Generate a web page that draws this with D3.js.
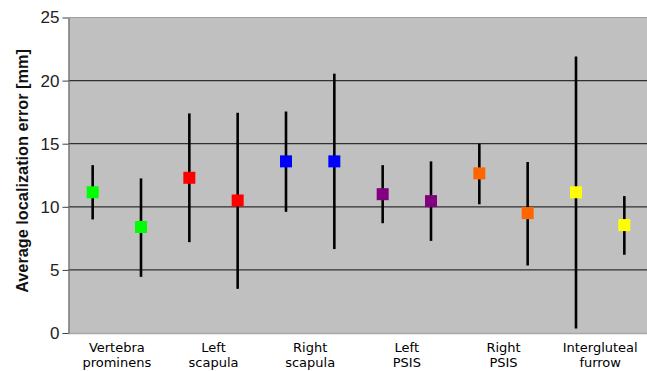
<!DOCTYPE html>
<html>
<head>
<meta charset="utf-8">
<script src="https://cdn.jsdelivr.net/npm/d3@7"></script>
<style>
  body { margin: 0; background: #fff; }
  svg { display: block; }
</style>
</head>
<body>
<svg id="chart" width="647" height="371"></svg>
<script>
// categories and the two measurements per landmark
const categories = [["Vertebra", "prominens"], ["Left", "scapula"], ["Right", "scapula"],
                    ["Left", "PSIS"], ["Right", "PSIS"], ["Intergluteal", "furrow"]];
const colors = ["#00ff00", "#ff0000", "#0000ff", "#800080", "#ff6600", "#ffff00"];
const meanA = [11.15, 12.3, 13.6, 11.0, 12.65, 11.15];
const lowA  = [9.0, 7.2, 9.6, 8.7, 10.2, 0.35];
const highA = [13.3, 17.4, 17.55, 13.3, 15.0, 21.9];
const meanB = [8.4, 10.5, 13.6, 10.45, 9.5, 8.55];
const lowB  = [4.45, 3.5, 6.65, 7.3, 5.35, 6.2];
const highB = [12.25, 17.45, 20.55, 13.6, 13.55, 10.85];
const yTicks = [0, 5, 10, 15, 20, 25];

const svg = d3.select("#chart");
const margin = { left: 68.5, top: 17.5, right: 648.5, bottom: 333 };
const arial = "'Liberation Sans', Arial, sans-serif";

const x = d3.scaleBand().domain(d3.range(categories.length)).range([margin.left, margin.right]);
const y = d3.scaleLinear().domain([0, 25]).range([margin.bottom, margin.top]);

// plot background
svg.append("rect")
    .attr("x", margin.left).attr("y", margin.top)
    .attr("width", margin.right - margin.left).attr("height", margin.bottom - margin.top)
    .attr("fill", "#c0c0c0");

// grid lines
svg.selectAll("line.grid")
    .data(yTicks.filter(d => d > 0 && d < 25))
    .enter().append("line")
    .attr("x1", margin.left).attr("x2", margin.right)
    .attr("y1", d => y(d)).attr("y2", d => y(d))
    .attr("stroke", "#303030").attr("stroke-width", 1.2);

// borders
svg.append("line").attr("x1", margin.left).attr("x2", margin.right)
    .attr("y1", margin.top).attr("y2", margin.top).attr("stroke", "#a0a0a0").attr("stroke-width", 1);
svg.append("line").attr("x1", margin.left).attr("x2", margin.right)
    .attr("y1", margin.bottom + 0.5).attr("y2", margin.bottom + 0.5).attr("stroke", "#a8a8a8").attr("stroke-width", 1.5);

// y axis
const yAxis = svg.append("g")
    .attr("transform", "translate(" + margin.left + ",0)")
    .call(d3.axisLeft(y).tickValues(yTicks).tickSize(6).tickPadding(3).tickSizeOuter(0));
yAxis.select(".domain").attr("stroke", "#707070").attr("stroke-width", 1.3);
yAxis.selectAll(".tick line").attr("stroke", "#404040");
yAxis.selectAll("text")
    .style("font-family", arial)
    .style("font-size", "17px").attr("fill", "#222");

svg.append("text")
    .attr("transform", "translate(27.5,171) rotate(-90)")
    .attr("text-anchor", "middle")
    .style("font-family", arial)
    .style("font-weight", "bold").style("font-size", "16.3px").attr("fill", "#111")
    .text("Average localization error [mm]");

// category labels
const labels = svg.selectAll("text.cat")
    .data(categories)
    .enter().append("text")
    .attr("class", "cat")
    .attr("text-anchor", "middle")
    .style("font-family", "'DejaVu Sans', Verdana, sans-serif")
    .style("font-size", "13px").attr("fill", "#000");
labels.append("tspan").attr("x", (d, i) => x(i) + x.bandwidth() / 2).attr("y", 351.5).text(d => d[0]);
labels.append("tspan").attr("x", (d, i) => x(i) + x.bandwidth() / 2).attr("y", 367).text(d => d[1]);

// points with error bars
const points = [];
categories.forEach((c, i) => {
    points.push({ cx: x(i) + x.bandwidth() * 0.25, mean: meanA[i], lo: lowA[i], hi: highA[i], color: colors[i] });
    points.push({ cx: x(i) + x.bandwidth() * 0.75, mean: meanB[i], lo: lowB[i], hi: highB[i], color: colors[i] });
});

svg.selectAll("line.err")
    .data(points)
    .enter().append("line")
    .attr("x1", d => d.cx).attr("x2", d => d.cx)
    .attr("y1", d => y(d.lo)).attr("y2", d => y(d.hi))
    .attr("stroke", "#000").attr("stroke-width", 2.6);

const s = 12;
svg.selectAll("rect.pt")
    .data(points)
    .enter().append("rect")
    .attr("x", d => d.cx - s / 2).attr("y", d => y(d.mean) - s / 2)
    .attr("width", s).attr("height", s)
    .attr("fill", d => d.color);
</script>
</body>
</html>
